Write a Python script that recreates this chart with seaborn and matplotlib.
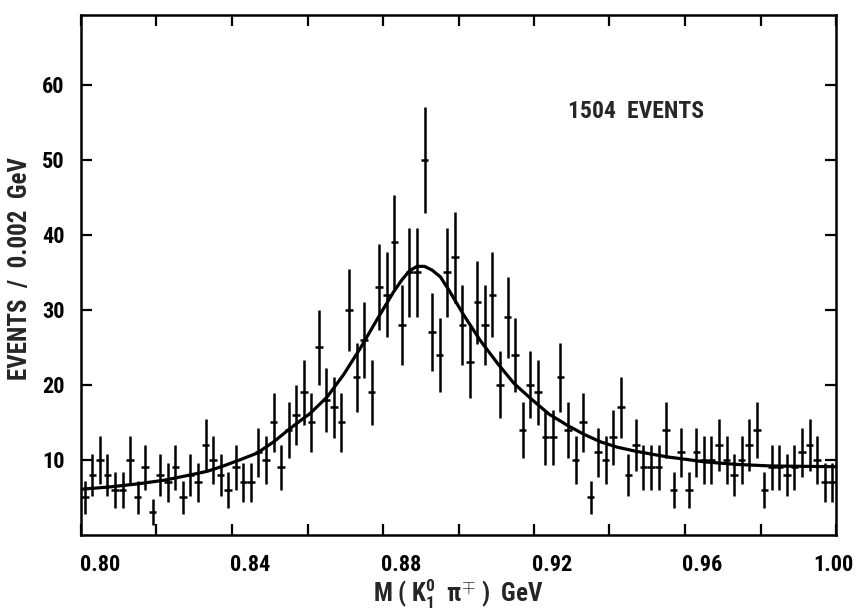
import numpy as np
import matplotlib
matplotlib.use("Agg")
import matplotlib.pyplot as plt
from matplotlib import font_manager
from matplotlib.transforms import ScaledTranslation
import seaborn as sns

# ---- data ----
bin_width = 0.002
mass_centers = [round(0.801 + 0.002 * i, 3) for i in range(100)]
counts = [5, 8, 10, 8, 6, 6, 10, 5, 9, 3,
          8, 7, 9, 5, 8, 7, 12, 10, 8, 6,
          9, 7, 7, 11, 10, 15, 9, 14, 16, 19,
          15, 25, 18, 17, 15, 30, 21, 26, 19, 33,
          32, 39, 28, 35, 35, 50, 27, 24, 35, 37,
          28, 23, 31, 28, 32, 20, 29, 24, 14, 20,
          19, 13, 13, 21, 14, 10, 15, 5, 11, 10,
          13, 17, 8, 12, 9, 9, 9, 14, 6, 11,
          6, 11, 10, 10, 12, 10, 8, 10, 12, 14,
          6, 9, 9, 8, 9, 11, 12, 10, 7, 7]

fit_mass = [0.800, 0.8075, 0.8148, 0.8220, 0.8289, 0.8335, 0.8377, 0.8420, 0.8466,
            0.8510, 0.8554, 0.8580, 0.8607, 0.8652, 0.8696, 0.8740, 0.8784, 0.8828,
            0.8850, 0.8870, 0.8890, 0.8910, 0.8930, 0.8952, 0.8975, 0.9014, 0.9058,
            0.9103, 0.9147, 0.9191, 0.9240, 0.9289, 0.9333, 0.9377, 0.9421, 0.9466,
            0.9509, 0.9554, 0.9600, 0.9651, 0.9700, 0.9739, 0.9828, 0.9916, 1.000]
fit_events = [6.1, 6.4, 6.8, 7.3, 8.0, 8.5, 9.2, 10.0, 10.9,
              12.4, 14.2, 15.2, 16.2, 18.4, 21.4, 24.9, 28.7, 32.4,
              34.0, 35.2, 35.8, 35.8, 35.3, 34.4, 32.6, 29.3, 25.9,
              22.9, 20.2, 18.2, 16.1, 14.6, 13.4, 12.4, 11.7, 11.2,
              10.8, 10.4, 10.1, 9.75, 9.55, 9.4, 9.2, 9.15, 9.1]

x_ticks = [0.80, 0.82, 0.84, 0.86, 0.88, 0.90, 0.92, 0.94, 0.96, 0.98, 1.00]
x_ticklabels = ["0.80", "", "0.84", "", "0.88", "", "0.92", "", "0.96", "", "1.00"]
y_ticks = [10, 20, 30, 40, 50, 60]
annotation = "1504  EVENTS"

# ---- styling ----
sns.set_theme(style="ticks")
available = {f.name for f in font_manager.fontManager.ttflist}
main_font = next((f for f in ["Roboto Condensed", "Liberation Sans Narrow", "DejaVu Sans"]
                  if f in available), "DejaVu Sans")
plt.rcParams["font.family"] = [main_font, "DejaVu Sans"]
plt.rcParams["font.weight"] = "bold"
plt.rcParams["axes.labelweight"] = "bold"
plt.rcParams["mathtext.fontset"] = "custom"
plt.rcParams["mathtext.rm"] = f"{main_font}:bold"
plt.rcParams["mathtext.it"] = f"{main_font}:bold"
plt.rcParams["mathtext.bf"] = f"{main_font}:bold"

fig = plt.figure(figsize=(8.58, 6.10), dpi=100)
ax = fig.add_axes([81 / 858, 1 - 535 / 610, (836 - 81) / 858, (535 - 15) / 610])

sns.lineplot(x=fit_mass, y=fit_events, ax=ax, color="black", linewidth=2.3,
             sort=False, estimator=None)
ax.errorbar(mass_centers, counts, yerr=np.sqrt(counts), xerr=bin_width / 2,
            fmt="none", ecolor="black", elinewidth=1.8, capsize=0)

ax.set_xlim(0.80, 1.00)
ax.set_ylim(0, 69.3)
ax.set_xticks(x_ticks)
ax.set_xticklabels(x_ticklabels)
ax.set_yticks(y_ticks)
ax.set_yticklabels([str(v) for v in y_ticks])
ax.tick_params(axis="both", direction="in", top=True, right=True,
               length=8, width=1.6, labelsize=16, colors="black")
ax.tick_params(axis="x", pad=14)
ax.tick_params(axis="y", pad=12)
for s in ax.spines.values():
    s.set_linewidth(1.8)
    s.set_color("black")

# hand-lettered tick labels sit slightly right of their ticks in the reference
shifts = {"0.80": 14, "0.84": 13, "0.88": 13, "0.92": 13, "0.96": 12, "1.00": -2}
for lab in ax.get_xticklabels():
    dx = shifts.get(lab.get_text(), 0)
    lab.set_transform(lab.get_transform() + ScaledTranslation(dx / 72, 0, fig.dpi_scale_trans))

ax.set_xlabel(r"M ( $\mathrm{K_1^0}$  $\mathrm{\pi^{\mp}}$ )  GeV", fontsize=18, labelpad=0)
ax.set_ylabel("EVENTS  /  0.002  GeV", fontsize=18)
ax.yaxis.set_label_coords(-(81 - 32) / 755, (535 - 268) / 520)
ax.text(0.947, 56.4, annotation, fontsize=17, ha="center", va="center")

fig.savefig("out.png", dpi=100, facecolor="white")
